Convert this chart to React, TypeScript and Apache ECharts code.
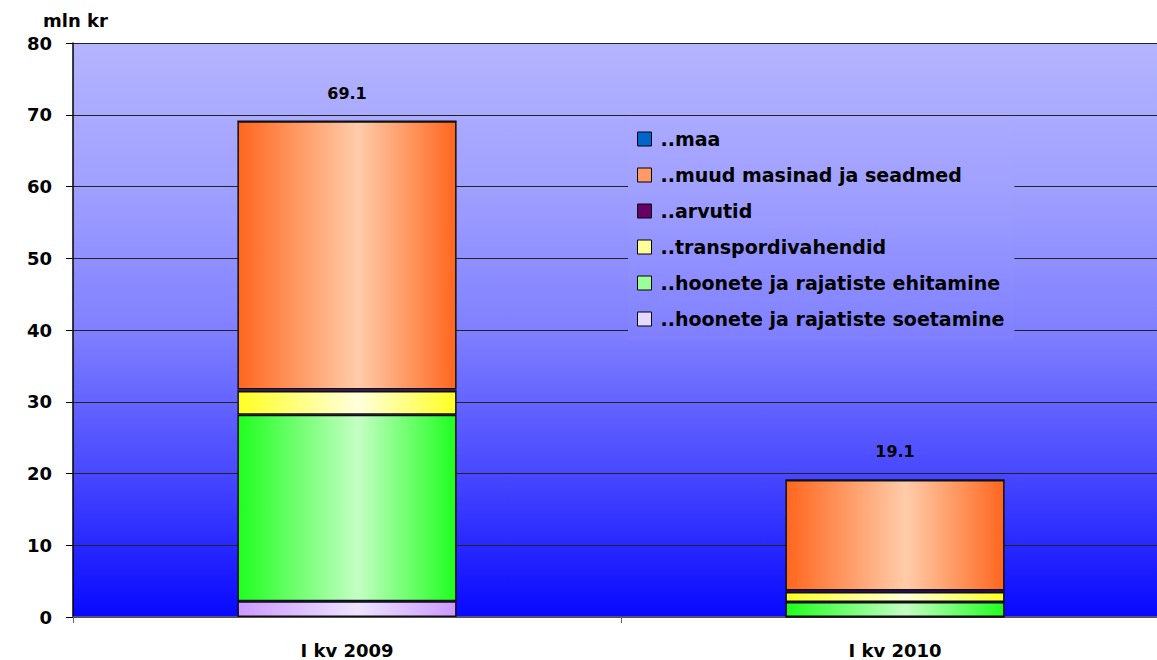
import React, { useEffect, useRef } from "react";
import * as echarts from "echarts";

const categories = ["I kv 2009", "I kv 2010"];
const soetamine = [2.2, 0];
const ehitamine = [26.0, 2.1];
const transport = [3.3, 1.4];
const arvutid = [0.2, 0.2];
const muud = [37.4, 15.4];
const maa = [0, 0];
const totals = [69.1, 19.1];
const yTicks = [0, 10, 20, 30, 40, 50, 60, 70, 80];

const FONT = "'DejaVu Sans', Verdana, sans-serif";

function hGrad(edge: string, mid: string) {
  return new echarts.graphic.LinearGradient(0, 0, 1, 0, [
    { offset: 0, color: edge },
    { offset: 0.55, color: mid },
    { offset: 1, color: edge },
  ]);
}

export default function App() {
  const ref = useRef<HTMLDivElement>(null);
  useEffect(() => {
    if (!ref.current) return;
    const chart = echarts.init(ref.current, undefined, { renderer: "svg" });
    const barBase = {
      type: "bar" as const,
      stack: "total",
      barWidth: "40%",
      itemStyle: { borderColor: "#111", borderWidth: 1.5 },
    };
    chart.setOption({
      animation: false,
      textStyle: { fontFamily: FONT },
      grid: {
        left: 73,
        width: 1096,
        top: 43,
        height: 574,
        outerBoundsMode: "none",
        containLabel: false,
        show: true,
        borderWidth: 0,
        backgroundColor: new echarts.graphic.LinearGradient(0, 0, 0, 1, [
          { offset: 0, color: "#B4B4FF" },
          { offset: 0.25, color: "#A0A0FF" },
          { offset: 0.5, color: "#8080FF" },
          { offset: 0.75, color: "#4848FF" },
          { offset: 1, color: "#0808FF" },
        ]),
      },
      graphic: [
        {
          type: "text",
          left: 43,
          top: 11,
          style: { text: "mln kr", font: `bold 18px ${FONT}`, fill: "#000" },
        },
      ],
      legend: {
        orient: "vertical",
        left: 628,
        top: 118,
        padding: [11, 10, 11, 9],
        itemGap: 16,
        itemWidth: 14,
        itemHeight: 14,
        icon: "rect",
        backgroundColor: new echarts.graphic.LinearGradient(0, 0, 0, 1, [
          { offset: 0, color: "#AAAAFF" },
          { offset: 0.32, color: "#A0A0FF" },
          { offset: 1, color: "#7F7FFF" },
        ]),
        textStyle: {
          fontFamily: FONT,
          fontWeight: "bold",
          fontSize: 19,
          lineHeight: 20,
          color: "#000",
          padding: [0, 0, 0, 4],
        },
        data: [
          { name: "..maa", itemStyle: { color: "#0066CC", borderColor: "#000", borderWidth: 1 } },
          { name: "..muud masinad ja seadmed", itemStyle: { color: "#FF9966", borderColor: "#000", borderWidth: 1 } },
          { name: "..arvutid", itemStyle: { color: "#660066", borderColor: "#000", borderWidth: 1 } },
          { name: "..transpordivahendid", itemStyle: { color: "#FFFF99", borderColor: "#000", borderWidth: 1 } },
          { name: "..hoonete ja rajatiste ehitamine", itemStyle: { color: "#99FF99", borderColor: "#000", borderWidth: 1 } },
          { name: "..hoonete ja rajatiste soetamine", itemStyle: { color: "#E6D9FF", borderColor: "#000", borderWidth: 1 } },
        ],
      },
      xAxis: {
        type: "category",
        data: categories,
        axisLine: { show: true, lineStyle: { color: "#666", width: 1.5 } },
        axisTick: { show: true, length: 6, lineStyle: { color: "#666" } },
        axisLabel: {
          margin: 24,
          fontFamily: FONT,
          fontWeight: "bold",
          fontSize: 18,
          color: "#000",
        },
        splitLine: { show: false },
      },
      yAxis: {
        type: "value",
        min: yTicks[0],
        max: yTicks[yTicks.length - 1],
        interval: 10,
        axisLine: { show: true, lineStyle: { color: "#000", width: 1.5 } },
        axisTick: { show: true, length: 7, lineStyle: { color: "#000" } },
        axisLabel: {
          margin: 21,
          fontFamily: FONT,
          fontWeight: "bold",
          fontSize: 18,
          color: "#000",
        },
        splitLine: { show: true, lineStyle: { color: "#222", width: 1 } },
      },
      series: [
        {
          ...barBase,
          name: "..hoonete ja rajatiste soetamine",
          data: soetamine,
          itemStyle: { ...barBase.itemStyle, color: hGrad("#CC99FF", "#EEE2FF") },
        },
        {
          ...barBase,
          name: "..hoonete ja rajatiste ehitamine",
          data: ehitamine,
          itemStyle: { ...barBase.itemStyle, color: hGrad("#1FFF1F", "#C4FFC4") },
        },
        {
          ...barBase,
          name: "..transpordivahendid",
          data: transport,
          itemStyle: { ...barBase.itemStyle, color: hGrad("#FFFF22", "#FFFFDD") },
        },
        {
          ...barBase,
          name: "..arvutid",
          data: arvutid,
          itemStyle: { ...barBase.itemStyle, borderWidth: 0.5, color: "#660066" },
        },
        {
          ...barBase,
          name: "..muud masinad ja seadmed",
          data: muud,
          itemStyle: { ...barBase.itemStyle, color: hGrad("#FF661E", "#FFCCAA") },
          label: {
            show: true,
            position: "top",
            distance: 20,
            fontFamily: FONT,
            fontWeight: "bold",
            fontSize: 16,
            color: "#000",
            formatter: (p: any) => totals[p.dataIndex].toFixed(1),
          },
        },
        {
          ...barBase,
          name: "..maa",
          data: maa,
          itemStyle: { ...barBase.itemStyle, color: "#0066CC" },
        },
      ],
    });
    return () => chart.dispose();
  }, []);
  return (
    <div
      ref={ref}
      style={{ position: "fixed", left: 0, top: 0, width: 1180, height: 660, background: "#fff" }}
    />
  );
}
